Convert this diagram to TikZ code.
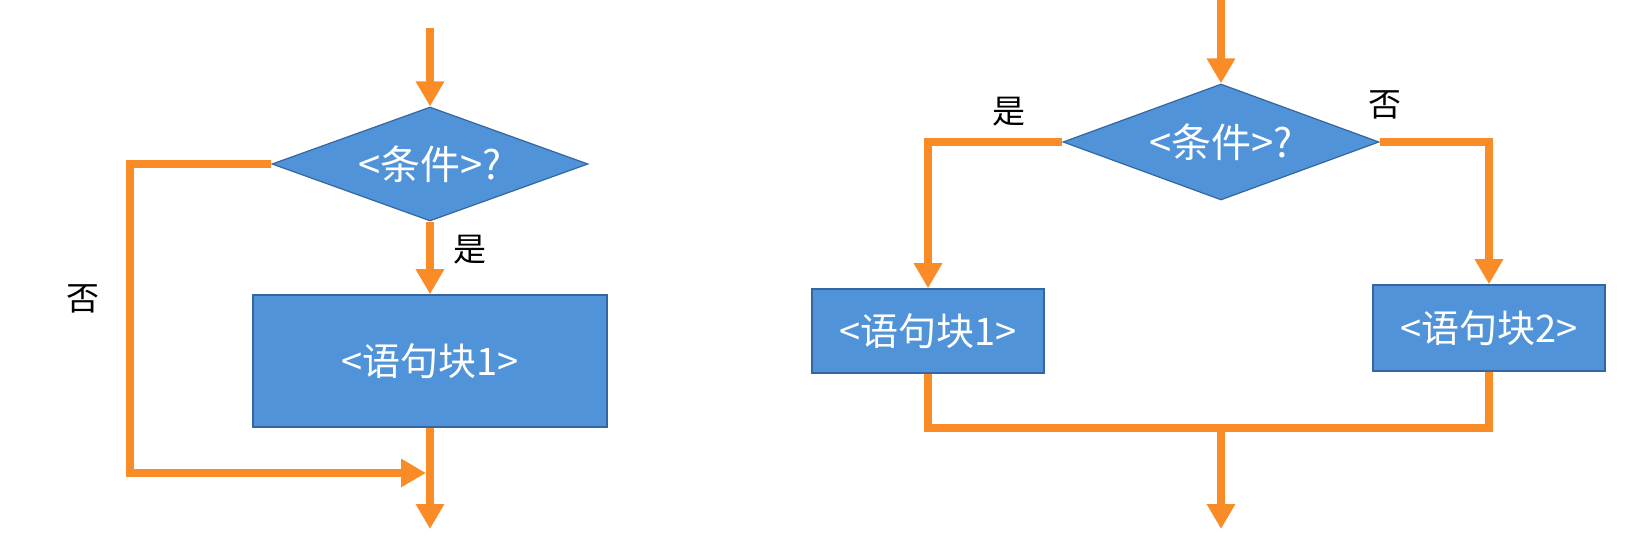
\documentclass[tikz,border=0pt]{standalone}
\usepackage{fontspec}
\newfontfamily\cjk{Noto Sans CJK SC}
\usetikzlibrary{shapes.geometric,arrows.meta}
\definecolor{flow}{RGB}{250,140,40}
\definecolor{boxfill}{RGB}{80,147,216}
\definecolor{boxline}{RGB}{52,102,160}
\tikzset{
  flowline/.style={draw=flow,line width=4.3pt},
  flowarrow/.style={flowline,-{Triangle[width=13.5pt,length=12.5pt]}},
  decision/.style={diamond,fill=boxfill,draw=boxline,line width=0.6pt,inner sep=0pt,
    text=white,font=\cjk\fontsize{20}{22}\selectfont},
  blockbox/.style={rectangle,fill=boxfill,draw=boxline,line width=0.8pt,inner sep=0pt,
    text=white,font=\cjk\fontsize{19}{21}\selectfont},
  lbl/.style={font=\cjk\fontsize{16.5}{18}\selectfont,text=black,inner sep=0pt}
}
\begin{document}
\begin{tikzpicture}[x=0.5pt,y=-0.5pt]
\useasboundingbox (0,0) rectangle (1633,539);
\fill[white] (0,0) rectangle (1633,539);
% ---------- left diagram ----------
\coordinate (t1) at (430,28);
\node[decision,shape aspect=2.77,minimum width=158pt,minimum height=57pt] (d1) at (430,164) {<条件>?};
\node[blockbox,minimum width=177pt,minimum height=66pt] (r1) at (430,361) {<语句块1>};
\coordinate (c1) at (130,164);
\coordinate (c2) at (130,473);
\coordinate (j1) at (426,473);
\coordinate (b1) at (430,529);
\draw[flowarrow] (t1) -- (d1.north);
\draw[flowarrow] (d1.south) -- (r1.north);
\draw[flowarrow] (d1.west) -- (c1) -- (c2) -- (j1);
\draw[flowarrow] (r1.south) -- (b1);
\node[lbl] (yes1) at (470,250) {是};
\node[lbl] (no1) at (83,299) {否};
% ---------- right diagram ----------
\coordinate (t2) at (1221,0);
\node[decision,shape aspect=2.72,minimum width=158pt,minimum height=58pt] (d2) at (1221,142) {<条件>?};
\node[blockbox,minimum width=116pt,minimum height=42pt] (r2) at (928,331) {<语句块1>};
\node[blockbox,minimum width=116pt,minimum height=43pt] (r3) at (1489,328) {<语句块2>};
\coordinate (m2) at (1221,428);
\coordinate (b2) at (1221,529);
\draw[flowarrow] (t2) -- (d2.north);
\draw[flowarrow] (d2.west) -| (r2.north);
\draw[flowarrow] (d2.east) -| (r3.north);
\draw[flowline] (r2.south) |- (m2) -| (r3.south);
\draw[flowarrow] (m2) -- (b2);
\node[lbl] (yes2) at (1009,112) {是};
\node[lbl] (no2) at (1385,105) {否};
\end{tikzpicture}
\end{document}
